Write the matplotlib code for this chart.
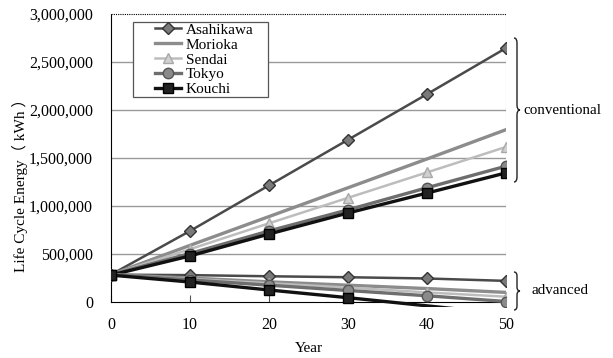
import matplotlib
matplotlib.use("Agg")
import matplotlib.pyplot as plt
from matplotlib.path import Path
from matplotlib.patches import PathPatch, Rectangle
from matplotlib.ticker import FuncFormatter

plt.rcParams['font.family'] = ['Liberation Serif', 'Noto Sans CJK JP', 'DejaVu Sans']

years = [0, 10, 20, 30, 40, 50]
cities = ["Asahikawa", "Morioka", "Sendai", "Tokyo", "Kouchi"]

conv_asahikawa = [285000, 740000, 1215000, 1690000, 2165000, 2645000]
conv_morioka = [285000, 590000, 890000, 1190000, 1490000, 1795000]
conv_sendai = [285000, 550000, 820000, 1085000, 1350000, 1615000]
conv_tokyo = [285000, 505000, 740000, 960000, 1190000, 1415000]
conv_kouchi = [280000, 480000, 708000, 927000, 1135000, 1345000]

adv_asahikawa = [285000, 280000, 268000, 258000, 245000, 220000]
adv_morioka = [285000, 250000, 210000, 175000, 140000, 100000]
adv_sendai = [285000, 240000, 195000, 150000, 100000, 55000]
adv_tokyo = [285000, 230000, 175000, 120000, 65000, 5000]
adv_kouchi = [280000, 208000, 125000, 45000, -40000, -125000]

yticks = [0, 500000, 1000000, 1500000, 2000000, 2500000, 3000000]
xticks = [0, 10, 20, 30, 40, 50]

styles = {
    "Asahikawa": dict(color="#4a4a4a", lw=1.8, marker="D", ms=6, mfc="#7a7a7a", mec="#333333"),
    "Morioka": dict(color="#8c8c8c", lw=2.4, marker=None),
    "Sendai": dict(color="#bdbdbd", lw=1.8, marker="^", ms=7.5, mfc="#d0d0d0", mec="#a8a8a8"),
    "Tokyo": dict(color="#6e6e6e", lw=2.4, marker="o", ms=7.5, mfc="#8a8a8a", mec="#555555"),
    "Kouchi": dict(color="#111111", lw=2.4, marker="s", ms=7, mfc="#222222", mec="#000000"),
}
conv = dict(zip(cities, [conv_asahikawa, conv_morioka, conv_sendai, conv_tokyo, conv_kouchi]))
adv = dict(zip(cities, [adv_asahikawa, adv_morioka, adv_sendai, adv_tokyo, adv_kouchi]))

W, H = 613, 358
fig = plt.figure(figsize=(W / 100, H / 100), dpi=100)

def fx(px):
    return px / W

def fy(py):
    return 1 - py / H

ylow = -55000
ax_left, ax_right, ax_top, ax_zero = 111, 506, 14, 302
ax_bottom = ax_zero + (0 - ylow) / 500000 * 48
ax = fig.add_axes([fx(ax_left), fy(ax_bottom), (ax_right - ax_left) / W, (ax_bottom - ax_top) / H])
ax.set_xlim(0, 50)
ax.set_ylim(ylow, 3000000)

for y in yticks[1:-1]:
    ax.axhline(y, color="#999999", lw=1.0, zorder=0)
ax.axhline(3000000, color="black", lw=0.8, ls=(0, (1, 1)), zorder=1, clip_on=False)
ax.axvline(50, color="#777777", lw=0.8, ls=(0, (1, 1)), zorder=1)

handles = []
for c in cities:
    st = dict(styles[c])
    h, = ax.plot(years, conv[c], label=c, zorder=3, **st)
    handles.append(h)
for c in cities:
    st = dict(styles[c])
    vals = adv[c]
    mk = [i for i, v in enumerate(vals) if v >= 0]
    ax.plot(years, vals, markevery=mk, zorder=3, **st)

for s in ["top", "right"]:
    ax.spines[s].set_visible(False)
ax.spines["bottom"].set_position(("data", 0))
ax.spines["bottom"].set_linestyle((0, (1, 1)))
ax.spines["bottom"].set_linewidth(0.8)
ax.spines["left"].set_bounds(0, 3000000)
ax.spines["left"].set_linestyle((0, (1, 1)))
ax.spines["left"].set_linewidth(0.8)

ax.set_xticks(xticks)
ax.set_yticks(yticks)
ax.yaxis.set_major_formatter(FuncFormatter(lambda v, p: f"{int(v):,}"))
ax.tick_params(axis="x", direction="in", length=5, width=0.8, pad=11, labelsize=11.5, color="#555555")
ax.tick_params(axis="y", length=0, pad=13, labelsize=11.5)

ax.set_xlabel("Year", fontsize=11)
ax.xaxis.set_label_coords(0.5, (ax_bottom - 348) / (ax_bottom - ax_top))
ax.set_ylabel("Life Cycle Energy（ kWh ）", fontsize=11)
ax.yaxis.set_label_coords((20 - ax_left) / (ax_right - ax_left), (ax_bottom - 182) / (ax_bottom - ax_top))
ax.yaxis.label.set_va("center")
ax.xaxis.label.set_va("center")

# legend box
box_top, box_bot = 22, 97
fig.patches.append(Rectangle((fx(133), fy(box_bot)), (268 - 133) / W, (box_bot - box_top) / H,
                             transform=fig.transFigure, fill=True, facecolor="white",
                             edgecolor="#555555", lw=0.9, zorder=5))
leg = fig.legend(handles=handles, loc="upper left", bbox_to_anchor=(fx(155), fy(23)),
                 frameon=False, fontsize=11, handlelength=1.7, handletextpad=0.3,
                 labelspacing=0.08, borderpad=0, borderaxespad=0)
leg.set_zorder(6)

def brace(x, y_top, y_bot, w=6, r=5):
    ym = (y_top + y_bot) / 2
    pts = [
        (x - w / 2, y_top), (x, y_top), (x, y_top + r),
        (x, ym - r), (x, ym), (x + w / 2, ym),
        (x, ym), (x, ym + r),
        (x, y_bot - r), (x, y_bot), (x - w / 2, y_bot),
    ]
    codes = [Path.MOVETO, Path.CURVE3, Path.CURVE3,
             Path.LINETO, Path.CURVE3, Path.CURVE3,
             Path.CURVE3, Path.CURVE3,
             Path.LINETO, Path.CURVE3, Path.CURVE3]
    verts = [(fx(a), fy(b)) for a, b in pts]
    fig.patches.append(PathPatch(Path(verts, codes), transform=fig.transFigure,
                                 fill=False, edgecolor="#222222", lw=1.0))

brace(517, 38, 182)
brace(517, 272, 310, r=4)
fig.text(fx(523), fy(110), "conventional", fontsize=10.8, ha="left", va="center")
fig.text(fx(532), fy(291), "advanced", fontsize=10.8, ha="left", va="center")

fig.savefig("out.png", dpi=100)
